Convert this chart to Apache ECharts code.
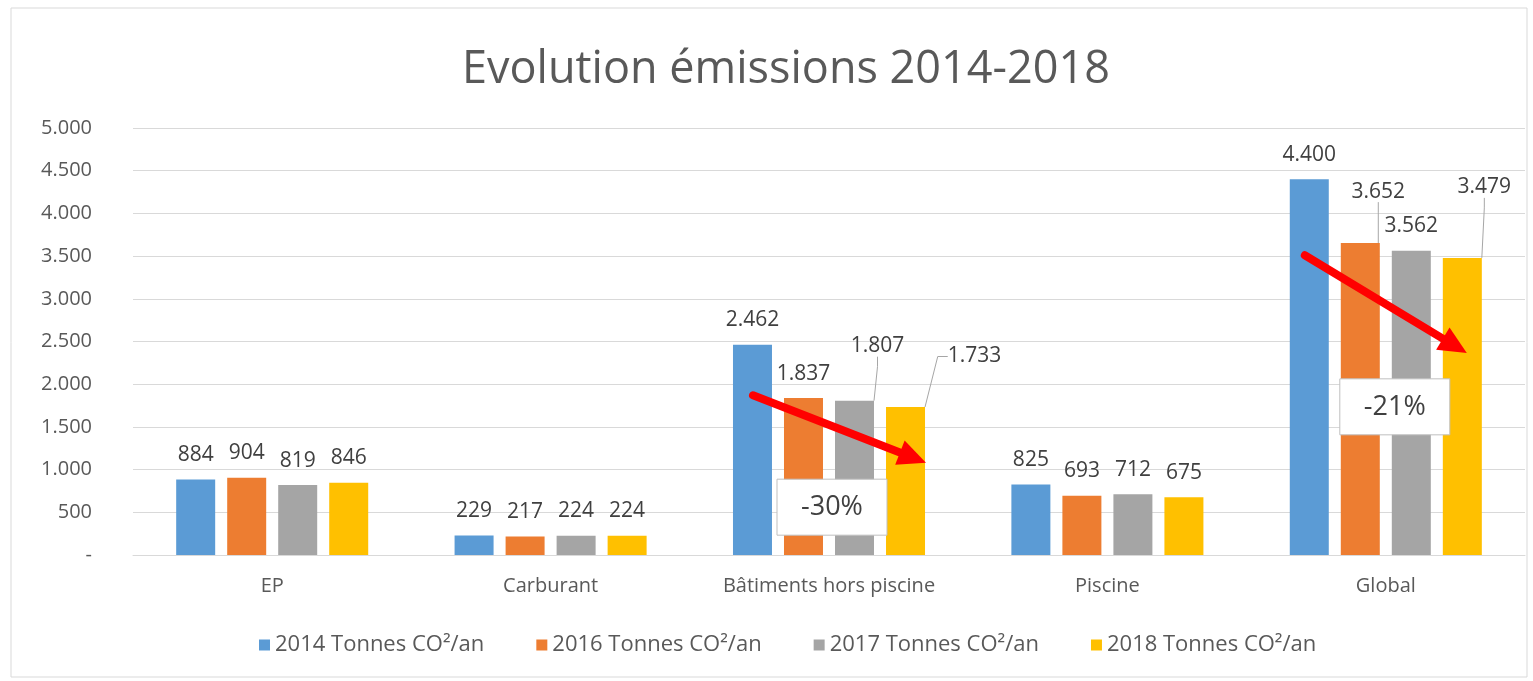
<!DOCTYPE html>
<html>
<head>
<meta charset="utf-8">
<script src="https://cdn.jsdelivr.net/npm/echarts@6/dist/echarts.min.js"></script>
<style>
html,body{margin:0;padding:0;background:#fff;}
#c{width:1533px;height:681px;}
</style>
</head>
<body>
<div id="c"></div>
<script>
// ---- data ----
const categories = ['EP', 'Carburant', 'Bâtiments hors piscine', 'Piscine', 'Global'];
const seriesNames = ['2014 Tonnes CO²/an', '2016 Tonnes CO²/an', '2017 Tonnes CO²/an', '2018 Tonnes CO²/an'];
const v2014 = [884, 229, 2462, 825, 4400];
const v2016 = [904, 217, 1837, 693, 3652];
const v2017 = [819, 224, 1807, 712, 3562];
const v2018 = [846, 224, 1733, 675, 3479];
const yTicks = [0, 500, 1000, 1500, 2000, 2500, 3000, 3500, 4000, 4500, 5000];
// annotations: arrows (start/end values) and percentage boxes
const arrowCats = ['Bâtiments hors piscine', 'Global'];
const arrowFrom = [1870, 3510];
const arrowTo = [1080, 2365];
const boxTexts = ['-30%', '-21%'];
const boxValues = [560, 1735];

// ---- styles / layout ----
const colors = ['#5B9BD5', '#ED7D31', '#A5A5A5', '#FFC000'];
const FONT = "'Open Sans', sans-serif";
const BAR_W = 39, BAR_GAP = 12;
const HALF_GROUP = 2 * BAR_W + 1.5 * BAR_GAP;
// label displacement (series index - category index -> [dx, dy]) with leader lines
const labelMoves = {
  '2-2': [23, -30], '3-2': [69, -26],
  '1-4': [18, -27], '3-4': [22, -46]
};
const allValues = [v2014, v2016, v2017, v2018];

function fmt(v) {
  if (v === 0) return '-';
  return String(Math.round(v)).replace(/\B(?=(\d{3})+(?!\d))/g, '.');
}

const chart = echarts.init(document.getElementById('c'), null, {renderer: 'canvas'});

const series = allValues.map((vals, si) => ({
  name: seriesNames[si],
  type: 'bar',
  barWidth: BAR_W,
  barGap: (BAR_GAP / BAR_W * 100).toFixed(1) + '%',
  itemStyle: {color: colors[si]},
  data: vals.map((v, ci) => {
    const moved = labelMoves[si + '-' + ci];
    return moved ? {value: v, labelLine: {show: true}} : {value: v};
  }),
  label: {
    show: true, position: 'top', distance: 14,
    fontFamily: FONT, fontSize: 21, color: '#404040',
    formatter: p => fmt(p.value)
  },
  labelLine: {show: false, lineStyle: {color: '#a6a6a6', width: 1}, length2: 10},
  labelLayout: function (p) {
    const m = labelMoves[p.seriesIndex + '-' + p.dataIndex];
    if (!m) return {};
    return {dx: m[0], dy: m[1]};
  }
}));

chart.setOption({
  animation: false,
  backgroundColor: '#fff',
  title: {
    text: 'Evolution émissions 2014-2018',
    left: 457, top: 43,
    textStyle: {fontFamily: FONT, fontSize: 45, fontWeight: 'normal', color: '#595959'}
  },
  legend: {
    bottom: 20, left: 254,
    itemWidth: 11, itemHeight: 11, itemGap: 52,
    icon: 'rect',
    textStyle: {fontFamily: FONT, fontSize: 22, color: '#595959'},
    data: seriesNames
  },
  grid: {left: 133, right: 8, top: 128, bottom: 126, containLabel: false},
  xAxis: {
    type: 'category', data: categories,
    axisLine: {lineStyle: {color: '#d9d9d9'}},
    axisTick: {show: false},
    axisLabel: {fontFamily: FONT, fontSize: 20, color: '#595959', margin: 21}
  },
  yAxis: {
    type: 'value', min: yTicks[0], max: yTicks[yTicks.length - 1], interval: yTicks[1] - yTicks[0],
    axisLine: {show: false}, axisTick: {show: false},
    splitLine: {lineStyle: {color: '#d9d9d9'}},
    axisLabel: {fontFamily: FONT, fontSize: 20, color: '#595959', margin: 41, formatter: v => fmt(v)}
  },
  series: series
});

// ---- annotations ----
const graphics = [{
  type: 'rect', shape: {x: 11, y: 8, width: 1516, height: 669},
  style: {fill: 'none', stroke: '#d9d9d9', lineWidth: 1}, silent: true, z: 0
}];
arrowCats.forEach((cat, i) => {
  const a = chart.convertToPixel({gridIndex: 0}, [cat, arrowFrom[i]]);
  const b = chart.convertToPixel({gridIndex: 0}, [cat, arrowTo[i]]);
  const x1 = a[0] - HALF_GROUP + (i === 0 ? 20 : 15), y1 = a[1];
  const x2 = b[0] + HALF_GROUP - (i === 0 ? -1 : 15), y2 = b[1];
  const ang = Math.atan2(y2 - y1, x2 - x1);
  const headL = 28, headW = 13;
  const bx = x2 - headL * Math.cos(ang), by = y2 - headL * Math.sin(ang);
  const nx = -Math.sin(ang), ny = Math.cos(ang);
  graphics.push({
    type: 'line', shape: {x1: x1, y1: y1, x2: bx, y2: by},
    style: {stroke: '#FF0000', lineWidth: 8, lineCap: 'round'}, z: 100
  });
  graphics.push({
    type: 'polygon',
    shape: {points: [[x2, y2], [bx + nx * headW, by + ny * headW], [bx - nx * headW, by - ny * headW]]},
    style: {fill: '#FF0000'}, z: 100
  });
});
boxTexts.forEach((t, i) => {
  const p = chart.convertToPixel({gridIndex: 0}, [arrowCats[i], boxValues[i]]);
  const cx = p[0] + (i === 0 ? 3 : 9), cy = p[1];
  graphics.push({
    type: 'rect', shape: {x: cx - 55, y: cy - 28, width: 110, height: 56},
    style: {fill: '#fff', stroke: '#bfbfbf', lineWidth: 1}, z: 101
  });
  graphics.push({
    type: 'text', x: cx, y: cy,
    style: {text: t, fontFamily: FONT, fontSize: 27, fill: '#404040', align: 'center', verticalAlign: 'middle'},
    z: 102
  });
});
chart.setOption({graphic: graphics});
</script>
</body>
</html>
